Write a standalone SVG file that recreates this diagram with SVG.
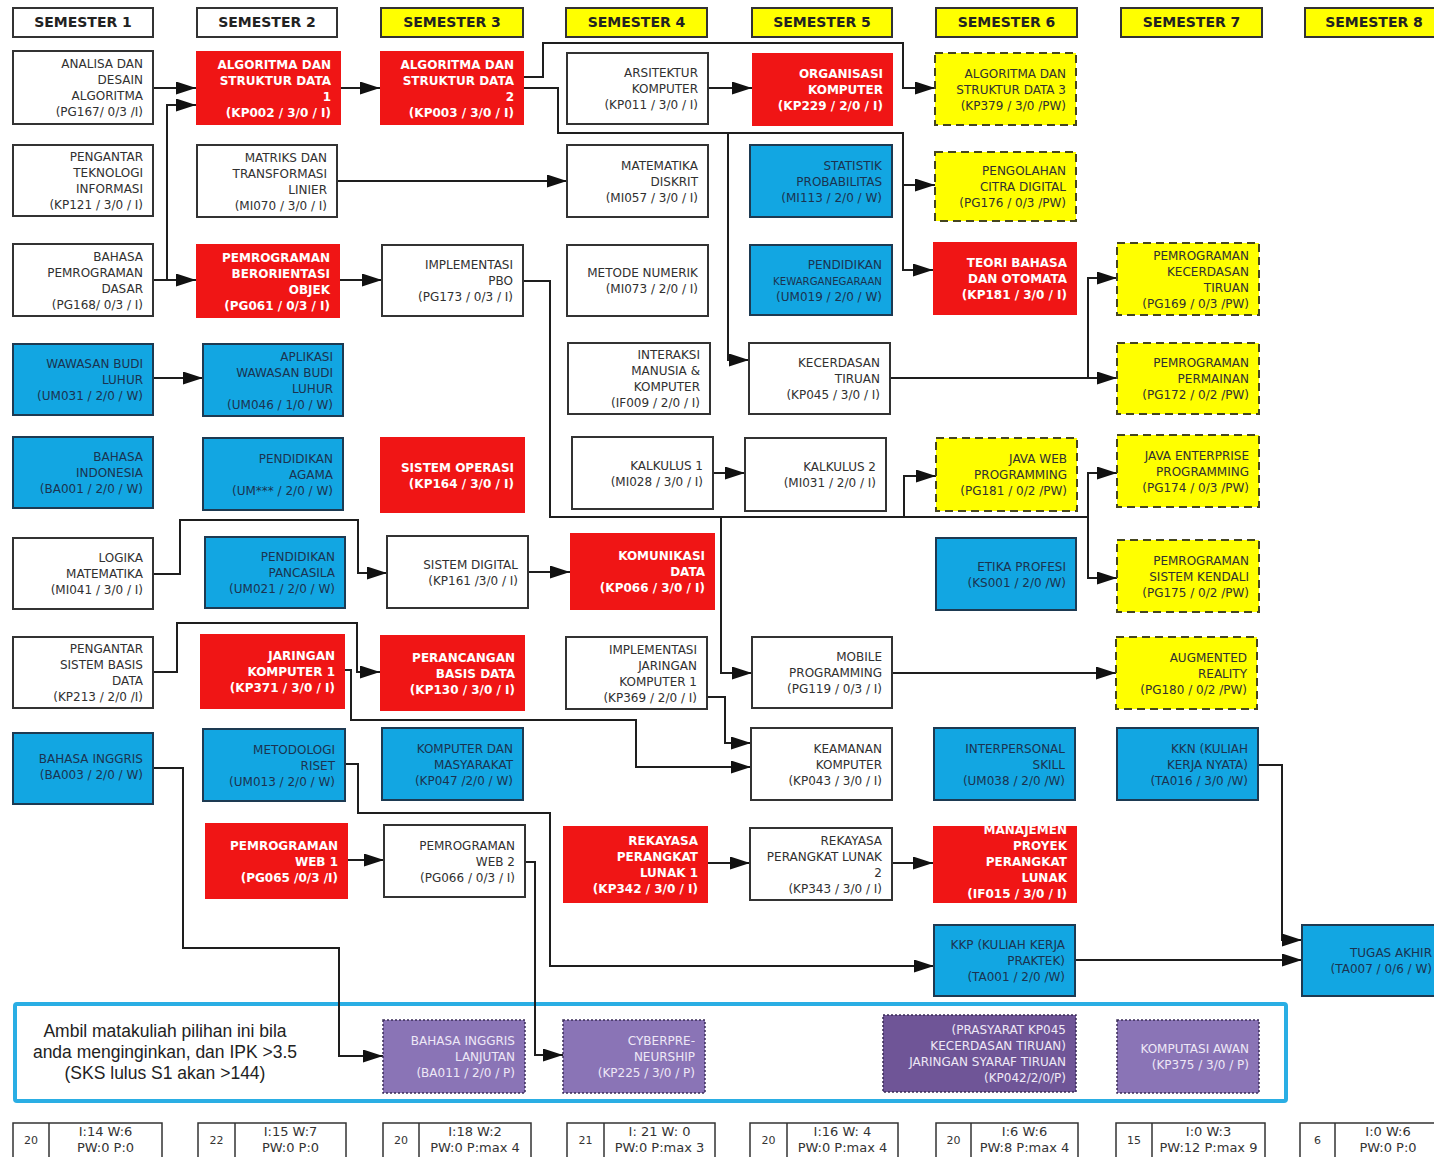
<svg xmlns="http://www.w3.org/2000/svg" width="1434" height="1157" viewBox="0 0 1434 1157">
<style>
.t{font-family:"DejaVu Sans",Verdana,sans-serif;font-size:12px;text-anchor:end;fill:#303030}
.tb{fill:#1b3350}
.tr{fill:#fff;font-weight:bold}
.tp{fill:#eee8f6}
.hd{font-family:"DejaVu Sans",Verdana,sans-serif;font-size:14px;font-weight:bold;text-anchor:middle;fill:#222}
.bw{fill:#fff;stroke:#333;stroke-width:2}
.br{fill:#F01515}
.bb{fill:#12A6E2;stroke:#1d3a52;stroke-width:2}
.by{fill:#FFFF00;stroke:#45451f;stroke-width:2;stroke-dasharray:8 5}
.bp{fill:#8A74B6;stroke:#3b2d58;stroke-width:1.5;stroke-dasharray:2 2}
.bpd{fill:#6F5597;stroke:#3b2d58;stroke-width:1.5;stroke-dasharray:2 2}
.hy{fill:#FFFF00;stroke:#333;stroke-width:2}
.hw{fill:#fff;stroke:#333;stroke-width:2}
.c{fill:none;stroke:#1e1e1e;stroke-width:2;marker-end:url(#arr)}
.ft{fill:#fff;stroke:#333;stroke-width:1.5}
.fn{font-family:"DejaVu Sans",Verdana,sans-serif;font-size:11px;text-anchor:middle;fill:#333}
.fx{font-family:"DejaVu Sans",Verdana,sans-serif;font-size:13px;text-anchor:middle;fill:#333}
.opt{font-family:"Liberation Sans",Arial,sans-serif;font-size:17.5px;text-anchor:middle;fill:#222}
</style>
<defs>
<marker id="arr" markerUnits="userSpaceOnUse" markerWidth="20" markerHeight="13" refX="20" refY="6.5" orient="auto">
<path d="M0,0 L20,6.5 L0,13 z" fill="#111"/>
</marker>
<clipPath id="clipMan"><rect x="933" y="826" width="144" height="77"/></clipPath>
</defs>
<rect x="0" y="0" width="1434" height="1157" fill="#fff"/>

<g id="headers">
<g id="h-s1"><rect class="hw" x="13" y="8" width="140" height="29"/><text class="hd" x="83" y="27">SEMESTER 1</text></g>
<g id="h-s2"><rect class="hw" x="197" y="8" width="140" height="29"/><text class="hd" x="267" y="27">SEMESTER 2</text></g>
<g id="h-s3"><rect class="hy" x="381" y="8" width="142" height="29"/><text class="hd" x="452" y="27">SEMESTER 3</text></g>
<g id="h-s4"><rect class="hy" x="566" y="8" width="141" height="29"/><text class="hd" x="636.5" y="27">SEMESTER 4</text></g>
<g id="h-s5"><rect class="hy" x="752" y="8" width="140" height="29"/><text class="hd" x="822" y="27">SEMESTER 5</text></g>
<g id="h-s6"><rect class="hy" x="936" y="8" width="141" height="29"/><text class="hd" x="1006.5" y="27">SEMESTER 6</text></g>
<g id="h-s7"><rect class="hy" x="1121" y="8" width="141" height="29"/><text class="hd" x="1191.5" y="27">SEMESTER 7</text></g>
<g id="h-s8"><rect class="hy" x="1305" y="8" width="140" height="29"/><text class="hd" x="1374" y="27">SEMESTER 8</text></g>
</g>

<g id="optional-frame"><rect x="15" y="1004" width="1271" height="97" rx="2" fill="none" stroke="#2AAEE4" stroke-width="4"/>
<text class="opt"><tspan x="165" y="1037">Ambil matakuliah pilihan ini bila</tspan><tspan x="165" y="1058">anda menginginkan, dan IPK &gt;3.5</tspan><tspan x="165" y="1079">(SKS lulus S1 akan &gt;144)</tspan></text></g>

<g id="connectors">
<path class="c" d="M153,88 H196"/>
<path class="c" d="M153,280 H196"/>
<path class="c" d="M167,280 V105 H196"/>
<path class="c" d="M341,88 H380"/>
<path class="c" d="M524,77 H543 V43 H903 V88 H935"/>
<path class="c" d="M524,88 H558 V133 H903 V270 H933"/>
<path class="c" d="M903,185 H935"/>
<path class="c" d="M728,133 V360 H749"/>
<path class="c" d="M337,181 H567"/>
<path class="c" d="M708,88 H752"/>
<path class="c" d="M340,280 H382"/>
<path class="c" d="M523,281 H550 V517 H1088 V473 H1117"/>
<path class="c" d="M1088,517 V578 H1117"/>
<path class="c" d="M904,517 V476 H936"/>
<path class="c" d="M721,517 V673 H752"/>
<path class="c" d="M713,473 H745"/>
<path class="c" d="M890,378 H1117"/>
<path class="c" d="M1088,378 V278 H1117"/>
<path class="c" d="M153,378 H203"/>
<path class="c" d="M153,574 H180 V520 H358 V573 H387"/>
<path class="c" d="M528,572 H570"/>
<path class="c" d="M153,672 H177 V623 H357 V672 H380"/>
<path class="c" d="M345,670 H351 V720 H636 V767 H751"/>
<path class="c" d="M707,697 H725 V743 H751"/>
<path class="c" d="M345,764 H358 V813 H550 V966 H934"/>
<path class="c" d="M525,862 H535 V1055 H563"/>
<path class="c" d="M348,860 H384"/>
<path class="c" d="M153,768 H183 V948 H339 V1056 H383"/>
<path class="c" d="M708,863 H750"/>
<path class="c" d="M892,863 H933"/>
<path class="c" d="M1075,960 H1302"/>
<path class="c" d="M1258,765 H1282 V940 H1302"/>
<path class="c" d="M892,673 H1116"/>
</g>

<g id="n-pg167"><rect class="bw" x="13" y="51" width="140" height="73"/><text class="t"><tspan x="143" y="68">ANALISA DAN</tspan><tspan x="143" y="84">DESAIN</tspan><tspan x="143" y="100">ALGORITMA</tspan><tspan x="143" y="116">(PG167/ 0/3 /I)</tspan></text></g>
<g id="n-kp121"><rect class="bw" x="13" y="145" width="140" height="71"/><text class="t"><tspan x="143" y="161">PENGANTAR</tspan><tspan x="143" y="177">TEKNOLOGI</tspan><tspan x="143" y="193">INFORMASI</tspan><tspan x="143" y="209">(KP121 / 3/0 / I)</tspan></text></g>
<g id="n-pg168"><rect class="bw" x="13" y="244" width="140" height="72"/><text class="t"><tspan x="143" y="260.5">BAHASA</tspan><tspan x="143" y="276.5">PEMROGRAMAN</tspan><tspan x="143" y="292.5">DASAR</tspan><tspan x="143" y="308.5">(PG168/ 0/3 / I)</tspan></text></g>
<g id="n-um031"><rect class="bb" x="13" y="344" width="140" height="71"/><text class="t tb"><tspan x="143" y="368">WAWASAN BUDI</tspan><tspan x="143" y="384">LUHUR</tspan><tspan x="143" y="400">(UM031 / 2/0 / W)</tspan></text></g>
<g id="n-ba001"><rect class="bb" x="13" y="437" width="140" height="71"/><text class="t tb"><tspan x="143" y="461">BAHASA</tspan><tspan x="143" y="477">INDONESIA</tspan><tspan x="143" y="493">(BA001 / 2/0 / W)</tspan></text></g>
<g id="n-mi041"><rect class="bw" x="13" y="538" width="140" height="71"/><text class="t"><tspan x="143" y="562">LOGIKA</tspan><tspan x="143" y="578">MATEMATIKA</tspan><tspan x="143" y="594">(MI041 / 3/0 / I)</tspan></text></g>
<g id="n-kp213"><rect class="bw" x="13" y="637" width="140" height="71"/><text class="t"><tspan x="143" y="653">PENGANTAR</tspan><tspan x="143" y="669">SISTEM BASIS</tspan><tspan x="143" y="685">DATA</tspan><tspan x="143" y="701">(KP213 / 2/0 /I)</tspan></text></g>
<g id="n-ba003"><rect class="bb" x="13" y="733" width="140" height="71"/><text class="t tb"><tspan x="143" y="763">BAHASA INGGRIS</tspan><tspan x="143" y="779">(BA003 / 2/0 / W)</tspan></text></g>

<g id="n-kp002"><rect class="br" x="196" y="51" width="145" height="74"/><text class="t tr"><tspan x="331" y="68.5">ALGORITMA DAN</tspan><tspan x="331" y="84.5">STRUKTUR DATA</tspan><tspan x="331" y="100.5">1</tspan><tspan x="331" y="116.5">(KP002 / 3/0 / I)</tspan></text></g>
<g id="n-mi070"><rect class="bw" x="197" y="145" width="140" height="72"/><text class="t"><tspan x="327" y="161.5">MATRIKS DAN</tspan><tspan x="327" y="177.5">TRANSFORMASI</tspan><tspan x="327" y="193.5">LINIER</tspan><tspan x="327" y="209.5">(MI070 / 3/0 / I)</tspan></text></g>
<g id="n-pg061"><rect class="br" x="196" y="244" width="144" height="74"/><text class="t tr"><tspan x="330" y="261.5">PEMROGRAMAN</tspan><tspan x="330" y="277.5">BERORIENTASI</tspan><tspan x="330" y="293.5">OBJEK</tspan><tspan x="330" y="309.5">(PG061 / 0/3 / I)</tspan></text></g>
<g id="n-um046"><rect class="bb" x="203" y="344" width="140" height="72"/><text class="t tb"><tspan x="333" y="360.5">APLIKASI</tspan><tspan x="333" y="376.5">WAWASAN BUDI</tspan><tspan x="333" y="392.5">LUHUR</tspan><tspan x="333" y="408.5">(UM046 / 1/0 / W)</tspan></text></g>
<g id="n-umxxx"><rect class="bb" x="203" y="438" width="140" height="72"/><text class="t tb"><tspan x="333" y="462.5">PENDIDIKAN</tspan><tspan x="333" y="478.5">AGAMA</tspan><tspan x="333" y="494.5">(UM*** / 2/0 / W)</tspan></text></g>
<g id="n-um021"><rect class="bb" x="205" y="537" width="140" height="71"/><text class="t tb"><tspan x="335" y="561">PENDIDIKAN</tspan><tspan x="335" y="577">PANCASILA</tspan><tspan x="335" y="593">(UM021 / 2/0 / W)</tspan></text></g>
<g id="n-kp371"><rect class="br" x="200" y="634" width="145" height="75"/><text class="t tr"><tspan x="335" y="660">JARINGAN</tspan><tspan x="335" y="676">KOMPUTER 1</tspan><tspan x="335" y="692">(KP371 / 3/0 / I)</tspan></text></g>
<g id="n-um013"><rect class="bb" x="203" y="729" width="142" height="72"/><text class="t tb"><tspan x="335" y="753.5">METODOLOGI</tspan><tspan x="335" y="769.5">RISET</tspan><tspan x="335" y="785.5">(UM013 / 2/0 / W)</tspan></text></g>
<g id="n-pg065"><rect class="br" x="205" y="823" width="143" height="76"/><text class="t tr"><tspan x="338" y="849.5">PEMROGRAMAN</tspan><tspan x="338" y="865.5">WEB 1</tspan><tspan x="338" y="881.5">(PG065 /0/3 /I)</tspan></text></g>

<g id="n-kp003"><rect class="br" x="380" y="51" width="144" height="74"/><text class="t tr"><tspan x="514" y="68.5">ALGORITMA DAN</tspan><tspan x="514" y="84.5">STRUKTUR DATA</tspan><tspan x="514" y="100.5">2</tspan><tspan x="514" y="116.5">(KP003 / 3/0 / I)</tspan></text></g>
<g id="n-pg173"><rect class="bw" x="382" y="245" width="141" height="71"/><text class="t"><tspan x="513" y="269">IMPLEMENTASI</tspan><tspan x="513" y="285">PBO</tspan><tspan x="513" y="301">(PG173 / 0/3 / I)</tspan></text></g>
<g id="n-kp164"><rect class="br" x="380" y="437" width="145" height="76"/><text class="t tr"><tspan x="514" y="471.5">SISTEM OPERASI</tspan><tspan x="514" y="487.5">(KP164 / 3/0 / I)</tspan></text></g>
<g id="n-kp161"><rect class="bw" x="387" y="536" width="141" height="72"/><text class="t"><tspan x="518" y="568.5">SISTEM DIGITAL</tspan><tspan x="518" y="584.5">(KP161 /3/0 / I)</tspan></text></g>
<g id="n-kp130"><rect class="br" x="380" y="635" width="145" height="76"/><text class="t tr"><tspan x="515" y="661.5">PERANCANGAN</tspan><tspan x="515" y="677.5">BASIS DATA</tspan><tspan x="515" y="693.5">(KP130 / 3/0 / I)</tspan></text></g>
<g id="n-kp047"><rect class="bb" x="382" y="728" width="141" height="72"/><text class="t tb"><tspan x="513" y="752.5">KOMPUTER DAN</tspan><tspan x="513" y="768.5">MASYARAKAT</tspan><tspan x="513" y="784.5">(KP047 /2/0 / W)</tspan></text></g>
<g id="n-pg066"><rect class="bw" x="384" y="825" width="141" height="72"/><text class="t"><tspan x="515" y="849.5">PEMROGRAMAN</tspan><tspan x="515" y="865.5">WEB 2</tspan><tspan x="515" y="881.5">(PG066 / 0/3 / I)</tspan></text></g>
<g id="n-ba011"><rect class="bp" x="383" y="1020" width="142" height="73"/><text class="t tp"><tspan x="515" y="1045">BAHASA INGGRIS</tspan><tspan x="515" y="1061">LANJUTAN</tspan><tspan x="515" y="1077">(BA011 / 2/0 / P)</tspan></text></g>

<g id="n-kp011"><rect class="bw" x="567" y="53" width="141" height="71"/><text class="t"><tspan x="698" y="77">ARSITEKTUR</tspan><tspan x="698" y="93">KOMPUTER</tspan><tspan x="698" y="109">(KP011 / 3/0 / I)</tspan></text></g>
<g id="n-mi057"><rect class="bw" x="567" y="145" width="141" height="72"/><text class="t"><tspan x="698" y="169.5">MATEMATIKA</tspan><tspan x="698" y="185.5">DISKRIT</tspan><tspan x="698" y="201.5">(MI057 / 3/0 / I)</tspan></text></g>
<g id="n-mi073"><rect class="bw" x="567" y="245" width="141" height="71"/><text class="t"><tspan x="698" y="277">METODE NUMERIK</tspan><tspan x="698" y="293">(MI073 / 2/0 / I)</tspan></text></g>
<g id="n-if009"><rect class="bw" x="568" y="343" width="142" height="71"/><text class="t"><tspan x="700" y="359">INTERAKSI</tspan><tspan x="700" y="375">MANUSIA &amp;</tspan><tspan x="700" y="391">KOMPUTER</tspan><tspan x="700" y="407">(IF009 / 2/0 / I)</tspan></text></g>
<g id="n-mi028"><rect class="bw" x="572" y="437" width="141" height="72"/><text class="t"><tspan x="703" y="469.5">KALKULUS 1</tspan><tspan x="703" y="485.5">(MI028 / 3/0 / I)</tspan></text></g>
<g id="n-kp066"><rect class="br" x="570" y="533" width="145" height="77"/><text class="t tr"><tspan x="705" y="560">KOMUNIKASI</tspan><tspan x="705" y="576">DATA</tspan><tspan x="705" y="592">(KP066 / 3/0 / I)</tspan></text></g>
<g id="n-kp369"><rect class="bw" x="566" y="637" width="141" height="72"/><text class="t"><tspan x="697" y="653.5">IMPLEMENTASI</tspan><tspan x="697" y="669.5">JARINGAN</tspan><tspan x="697" y="685.5">KOMPUTER 1</tspan><tspan x="697" y="701.5">(KP369 / 2/0 / I)</tspan></text></g>
<g id="n-kp342"><rect class="br" x="563" y="826" width="145" height="77"/><text class="t tr"><tspan x="698" y="845">REKAYASA</tspan><tspan x="698" y="861">PERANGKAT</tspan><tspan x="698" y="877">LUNAK 1</tspan><tspan x="698" y="893">(KP342 / 3/0 / I)</tspan></text></g>
<g id="n-kp225"><rect class="bp" x="563" y="1020" width="142" height="73"/><text class="t tp"><tspan x="695" y="1045">CYBERPRE-</tspan><tspan x="695" y="1061">NEURSHIP</tspan><tspan x="695" y="1077">(KP225 / 3/0 / P)</tspan></text></g>

<g id="n-kp229"><rect class="br" x="752" y="53" width="141" height="73"/><text class="t tr"><tspan x="883" y="78">ORGANISASI</tspan><tspan x="883" y="94">KOMPUTER</tspan><tspan x="883" y="110">(KP229 / 2/0 / I)</tspan></text></g>
<g id="n-mi113"><rect class="bb" x="750" y="145" width="142" height="72"/><text class="t tb"><tspan x="882" y="169.5">STATISTIK</tspan><tspan x="882" y="185.5">PROBABILITAS</tspan><tspan x="882" y="201.5">(MI113 / 2/0 / W)</tspan></text></g>
<g id="n-um019"><rect class="bb" x="750" y="245" width="142" height="70"/><text class="t tb"><tspan x="882" y="268.5">PENDIDIKAN</tspan><tspan x="882" y="284.5" font-size="10.2">KEWARGANEGARAAN</tspan><tspan x="882" y="300.5">(UM019 / 2/0 / W)</tspan></text></g>
<g id="n-kp045"><rect class="bw" x="749" y="343" width="141" height="71"/><text class="t"><tspan x="880" y="367">KECERDASAN</tspan><tspan x="880" y="383">TIRUAN</tspan><tspan x="880" y="399">(KP045 / 3/0 / I)</tspan></text></g>
<g id="n-mi031"><rect class="bw" x="745" y="438" width="141" height="73"/><text class="t"><tspan x="876" y="471">KALKULUS 2</tspan><tspan x="876" y="487">(MI031 / 2/0 / I)</tspan></text></g>
<g id="n-pg119"><rect class="bw" x="752" y="637" width="140" height="71"/><text class="t"><tspan x="882" y="661">MOBILE</tspan><tspan x="882" y="677">PROGRAMMING</tspan><tspan x="882" y="693">(PG119 / 0/3 / I)</tspan></text></g>
<g id="n-kp043"><rect class="bw" x="751" y="728" width="141" height="72"/><text class="t"><tspan x="882" y="752.5">KEAMANAN</tspan><tspan x="882" y="768.5">KOMPUTER</tspan><tspan x="882" y="784.5">(KP043 / 3/0 / I)</tspan></text></g>
<g id="n-kp343"><rect class="bw" x="750" y="828" width="142" height="72"/><text class="t"><tspan x="882" y="844.5">REKAYASA</tspan><tspan x="882" y="860.5">PERANGKAT LUNAK</tspan><tspan x="882" y="876.5">2</tspan><tspan x="882" y="892.5">(KP343 / 3/0 / I)</tspan></text></g>

<g id="n-kp379"><rect class="by" x="935" y="53" width="141" height="72"/><text class="t"><tspan x="1066" y="77.5">ALGORITMA DAN</tspan><tspan x="1066" y="93.5">STRUKTUR DATA 3</tspan><tspan x="1066" y="109.5">(KP379 / 3/0 /PW)</tspan></text></g>
<g id="n-pg176"><rect class="by" x="935" y="152" width="141" height="69"/><text class="t"><tspan x="1066" y="175">PENGOLAHAN</tspan><tspan x="1066" y="191">CITRA DIGITAL</tspan><tspan x="1066" y="207">(PG176 /  0/3 /PW)</tspan></text></g>
<g id="n-kp181"><rect class="br" x="933" y="242" width="144" height="73"/><text class="t tr"><tspan x="1067" y="267">TEORI BAHASA</tspan><tspan x="1067" y="283">DAN OTOMATA</tspan><tspan x="1067" y="299">(KP181 / 3/0 / I)</tspan></text></g>
<g id="n-pg181"><rect class="by" x="936" y="438" width="141" height="73"/><text class="t"><tspan x="1067" y="463">JAVA WEB</tspan><tspan x="1067" y="479">PROGRAMMING</tspan><tspan x="1067" y="495">(PG181 / 0/2 /PW)</tspan></text></g>
<g id="n-ks001"><rect class="bb" x="936" y="538" width="140" height="72"/><text class="t tb"><tspan x="1066" y="570.5">ETIKA PROFESI</tspan><tspan x="1066" y="586.5">(KS001 / 2/0 /W)</tspan></text></g>
<g id="n-um038"><rect class="bb" x="934" y="728" width="141" height="72"/><text class="t tb"><tspan x="1065" y="752.5">INTERPERSONAL</tspan><tspan x="1065" y="768.5">SKILL</tspan><tspan x="1065" y="784.5">(UM038 / 2/0 /W)</tspan></text></g>
<g id="n-if015"><rect class="br" x="933" y="826" width="144" height="77"/><text class="t tr" clip-path="url(#clipMan)"><tspan x="1067" y="834">MANAJEMEN</tspan><tspan x="1067" y="850">PROYEK</tspan><tspan x="1067" y="866">PERANGKAT</tspan><tspan x="1067" y="882">LUNAK</tspan><tspan x="1067" y="898">(IF015 / 3/0 / I)</tspan></text></g>
<g id="n-ta001"><rect class="bb" x="934" y="925" width="141" height="71"/><text class="t tb"><tspan x="1065" y="949">KKP (KULIAH KERJA</tspan><tspan x="1065" y="965">PRAKTEK)</tspan><tspan x="1065" y="981">(TA001 / 2/0 /W)</tspan></text></g>
<g id="n-kp042"><rect class="bpd" x="883" y="1015" width="193" height="77"/><text class="t tp"><tspan x="1066" y="1034">(PRASYARAT KP045</tspan><tspan x="1066" y="1050">KECERDASAN TIRUAN)</tspan><tspan x="1066" y="1066">JARINGAN SYARAF TIRUAN</tspan><tspan x="1066" y="1082">(KP042/2/0/P)</tspan></text></g>

<g id="n-pg169"><rect class="by" x="1117" y="243" width="142" height="72"/><text class="t"><tspan x="1249" y="259.5">PEMROGRAMAN</tspan><tspan x="1249" y="275.5">KECERDASAN</tspan><tspan x="1249" y="291.5">TIRUAN</tspan><tspan x="1249" y="307.5">(PG169 / 0/3 /PW)</tspan></text></g>
<g id="n-pg172"><rect class="by" x="1117" y="343" width="142" height="71"/><text class="t"><tspan x="1249" y="367">PEMROGRAMAN</tspan><tspan x="1249" y="383">PERMAINAN</tspan><tspan x="1249" y="399">(PG172 / 0/2 /PW)</tspan></text></g>
<g id="n-pg174"><rect class="by" x="1117" y="435" width="142" height="72"/><text class="t"><tspan x="1249" y="459.5">JAVA ENTERPRISE</tspan><tspan x="1249" y="475.5">PROGRAMMING</tspan><tspan x="1249" y="491.5">(PG174 / 0/3 /PW)</tspan></text></g>
<g id="n-pg175"><rect class="by" x="1117" y="540" width="142" height="72"/><text class="t"><tspan x="1249" y="564.5">PEMROGRAMAN</tspan><tspan x="1249" y="580.5">SISTEM KENDALI</tspan><tspan x="1249" y="596.5">(PG175 / 0/2 /PW)</tspan></text></g>
<g id="n-pg180"><rect class="by" x="1116" y="637" width="141" height="72"/><text class="t"><tspan x="1247" y="661.5">AUGMENTED</tspan><tspan x="1247" y="677.5">REALITY</tspan><tspan x="1247" y="693.5">(PG180 / 0/2 /PW)</tspan></text></g>
<g id="n-ta016"><rect class="bb" x="1117" y="728" width="141" height="72"/><text class="t tb"><tspan x="1248" y="752.5">KKN (KULIAH</tspan><tspan x="1248" y="768.5">KERJA NYATA)</tspan><tspan x="1248" y="784.5">(TA016 / 3/0 /W)</tspan></text></g>
<g id="n-kp375"><rect class="bp" x="1117" y="1020" width="142" height="73"/><text class="t tp"><tspan x="1249" y="1053">KOMPUTASI AWAN</tspan><tspan x="1249" y="1069">(KP375 / 3/0 / P)</tspan></text></g>

<g id="n-ta007"><rect class="bb" x="1302" y="925" width="145" height="71"/><text class="t tb"><tspan x="1432" y="957">TUGAS AKHIR</tspan><tspan x="1432" y="973">(TA007 / 0/6 / W)</tspan></text></g>

<g id="footer">
<g id="f1"><rect class="ft" x="13" y="1123" width="149" height="45"/><line x1="49" y1="1123" x2="49" y2="1168" stroke="#333" stroke-width="1.5"/><text class="fn" x="31" y="1144">20</text><text class="fx"><tspan x="105.5" y="1135.5">I:14  W:6</tspan><tspan x="105.5" y="1151.5">PW:0 P:0</tspan></text></g>
<g id="f2"><rect class="ft" x="198" y="1123" width="148" height="45"/><line x1="235" y1="1123" x2="235" y2="1168" stroke="#333" stroke-width="1.5"/><text class="fn" x="216.5" y="1144">22</text><text class="fx"><tspan x="290.5" y="1135.5">I:15  W:7</tspan><tspan x="290.5" y="1151.5">PW:0 P:0</tspan></text></g>
<g id="f3"><rect class="ft" x="383" y="1123" width="148" height="45"/><line x1="419" y1="1123" x2="419" y2="1168" stroke="#333" stroke-width="1.5"/><text class="fn" x="401" y="1144">20</text><text class="fx"><tspan x="475" y="1135.5">I:18  W:2</tspan><tspan x="475" y="1151.5">PW:0 P:max 4</tspan></text></g>
<g id="f4"><rect class="ft" x="567" y="1123" width="148" height="45"/><line x1="604" y1="1123" x2="604" y2="1168" stroke="#333" stroke-width="1.5"/><text class="fn" x="585.5" y="1144">21</text><text class="fx"><tspan x="659.5" y="1135.5">I: 21  W: 0</tspan><tspan x="659.5" y="1151.5">PW:0 P:max 3</tspan></text></g>
<g id="f5"><rect class="ft" x="750" y="1123" width="148" height="45"/><line x1="787" y1="1123" x2="787" y2="1168" stroke="#333" stroke-width="1.5"/><text class="fn" x="768.5" y="1144">20</text><text class="fx"><tspan x="842.5" y="1135.5">I:16  W: 4</tspan><tspan x="842.5" y="1151.5">PW:0 P:max 4</tspan></text></g>
<g id="f6"><rect class="ft" x="936" y="1123" width="142" height="45"/><line x1="971" y1="1123" x2="971" y2="1168" stroke="#333" stroke-width="1.5"/><text class="fn" x="953.5" y="1144">20</text><text class="fx"><tspan x="1024.5" y="1135.5">I:6  W:6</tspan><tspan x="1024.5" y="1151.5">PW:8 P:max 4</tspan></text></g>
<g id="f7"><rect class="ft" x="1116" y="1123" width="149" height="45"/><line x1="1152" y1="1123" x2="1152" y2="1168" stroke="#333" stroke-width="1.5"/><text class="fn" x="1134" y="1144">15</text><text class="fx"><tspan x="1208.5" y="1135.5">I:0  W:3</tspan><tspan x="1208.5" y="1151.5">PW:12 P:max 9</tspan></text></g>
<g id="f8"><rect class="ft" x="1300" y="1123" width="141" height="45"/><line x1="1335" y1="1123" x2="1335" y2="1168" stroke="#333" stroke-width="1.5"/><text class="fn" x="1317.5" y="1144">6</text><text class="fx"><tspan x="1388" y="1135.5">I:0  W:6</tspan><tspan x="1388" y="1151.5">PW:0 P:0</tspan></text></g>
</g>
</svg>
